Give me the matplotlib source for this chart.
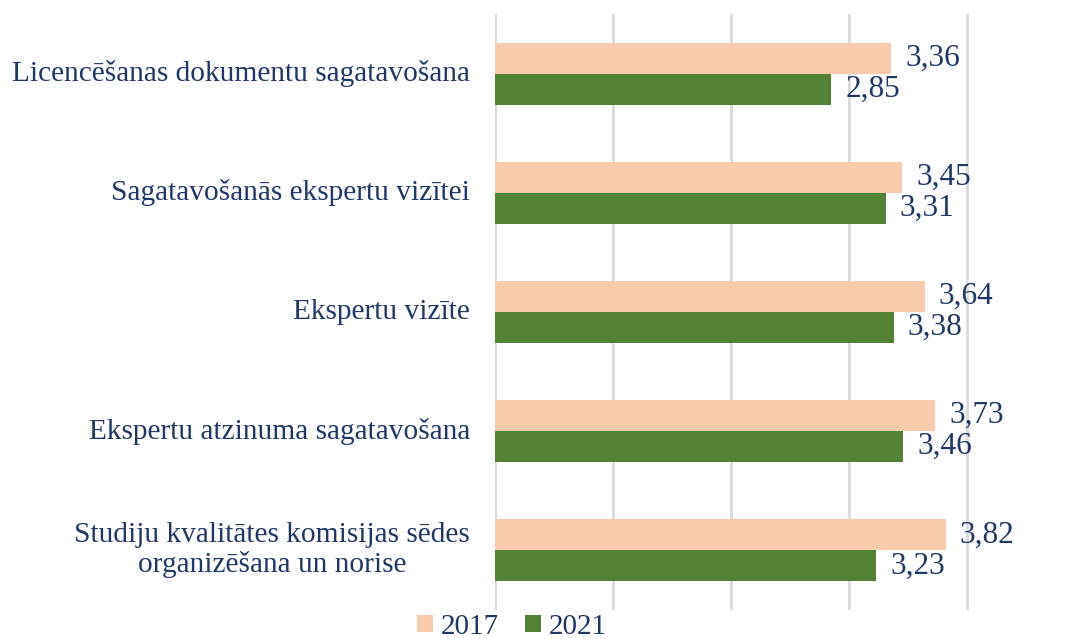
import matplotlib.pyplot as plt
import numpy as np

categories = [
    "Licencēšanas dokumentu sagatavošana",
    "Sagatavošanās ekspertu vizītei",
    "Ekspertu vizīte",
    "Ekspertu atzinuma sagatavošana",
    "Studiju kvalitātes komisijas sēdes\norganizēšana un norise",
]
series_names = ["2017", "2021"]
values_2017 = [3.36, 3.45, 3.64, 3.73, 3.82]
values_2021 = [2.85, 3.31, 3.38, 3.46, 3.23]

text_color = "#203864"
colors = ["#F8CBAD", "#548235"]
fs = 22.5
fs_cat = 21.2

plt.rcParams["font.family"] = ["Liberation Serif", "DejaVu Serif"]

W, H = 1073, 639
fig = plt.figure(figsize=(W / 100, H / 100), dpi=100)
ax = fig.add_axes([495 / W, 1 - 610 / H, (W - 495) / W, 596 / H])

y = np.arange(len(categories))
bh = 0.26
bars1 = ax.barh(y - bh / 2, values_2017, height=bh, color=colors[0], label=series_names[0], zorder=3)
bars2 = ax.barh(y + bh / 2, values_2021, height=bh, color=colors[1], label=series_names[1], zorder=3)

for bars in (bars1, bars2):
    for b in bars:
        v = b.get_width()
        ax.annotate(f"{v:.2f}".replace(".", ","), (v, b.get_y() + b.get_height() / 2),
                    xytext=(10, 0), textcoords="offset points", ha="left", va="center",
                    fontsize=fs, color=text_color)

ax.set_xlim(0, (W - 495) / 118)
ax.set_ylim(len(categories) - 0.5, -0.5)
ax.set_xticks([0, 1, 2, 3, 4])
ax.set_xticklabels([])
ax.tick_params(axis="x", length=0)
ax.set_yticks(y)
ax.set_yticklabels([])
ax.tick_params(axis="y", length=0)
ax.grid(axis="x", color="#D9D9D9", linewidth=2, zorder=0)
for s in ax.spines.values():
    s.set_visible(False)

# category labels: right aligned, multi-line centred
for yi, cat in zip(y, categories):
    ax.annotate(cat, (0, yi), xytext=(-18, 0), textcoords="offset points",
                ha="right", va="center", multialignment="center",
                fontsize=fs_cat, color=text_color, linespacing=1.15)

fig.legend(loc="center", bbox_to_anchor=(512 / W, 1 - 627 / H), ncol=2, frameon=False,
           fontsize=21, handlelength=0.55, handleheight=0.55, handletextpad=0.25,
           columnspacing=0.9, labelcolor=text_color, borderpad=0)

fig.savefig("out.png", dpi=100)
